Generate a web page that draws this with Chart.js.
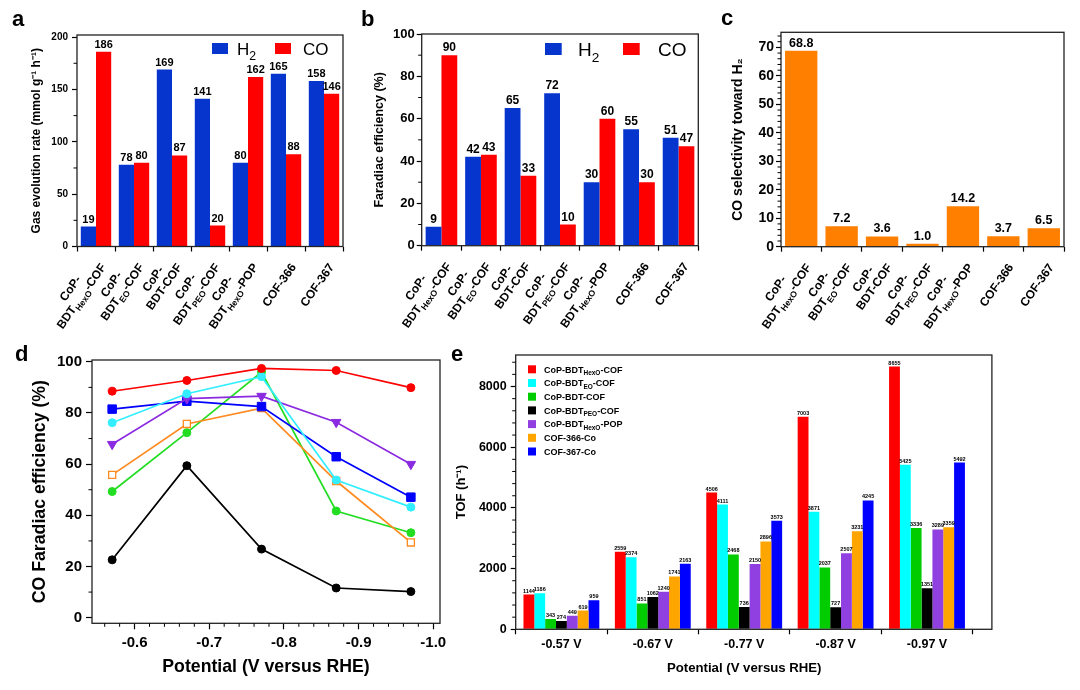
<!DOCTYPE html>
<html>
<head>
<meta charset="utf-8">
<script src="https://cdn.jsdelivr.net/npm/chart.js@4.4.1/dist/chart.umd.min.js"></script>
<style>
  body { margin: 0; background: #fff; width: 1080px; height: 690px; position: relative; overflow: hidden; }
  canvas { position: absolute; }
  .tag { position: absolute; font: bold 22px "Liberation Sans", Arial, sans-serif; line-height: 22px; color: #000; }
</style>
</head>
<body>
<canvas id="ga" width="360" height="345" style="left:0;top:0"></canvas>
<canvas id="gb" width="360" height="345" style="left:355px;top:0"></canvas>
<canvas id="gc" width="365" height="345" style="left:715px;top:0"></canvas>
<canvas id="gd" width="480" height="360" style="left:0;top:330px"></canvas>
<canvas id="ge" width="640" height="360" style="left:440px;top:330px"></canvas>
<div class="tag" style="left:12px;top:8px">a</div>
<div class="tag" style="left:361px;top:8px">b</div>
<div class="tag" style="left:721px;top:7px">c</div>
<div class="tag" style="left:15px;top:343px">d</div>
<div class="tag" style="left:451px;top:343px">e</div>
<script>
// ---- data ----
const catalysts = ['CoP-BDT_{HexO}-COF', 'CoP-BDT_{EO}-COF', 'CoP-BDT-COF', 'CoP-BDT_{PEO}-COF', 'CoP-BDT_{HexO}-POP', 'COF-366', 'COF-367'];
const rateH2 = [19, 78, 169, 141, 80, 165, 158];
const rateCO = [186, 80, 87, 20, 162, 88, 146];
const feH2 = [9, 42, 65, 72, 30, 55, 51];
const feCO = [90, 43, 33, 10, 60, 30, 47];
const selectivity = [68.8, 7.2, 3.6, 1.0, 14.2, 3.7, 6.5];

const potentials = [-0.57, -0.67, -0.77, -0.87, -0.97];
const feHexoCOF = [88.5, 92.7, 97.4, 96.6, 89.9];
const feEOCOF = [76.2, 87.5, 94.2, 53.8, 43.2];
const feBDTCOF = [49.3, 72.3, 96.0, 41.7, 33.2];
const fePEOCOF = [22.6, 59.4, 26.8, 11.6, 10.2];
const feHexoPOP = [67.8, 85.6, 86.6, 76.4, 60.0];
const feCOF366 = [55.8, 75.7, 81.9, 53.4, 29.4];
const feCOF367 = [81.5, 84.6, 82.5, 62.9, 47.1];

const tofLabels = ['-0.57 V', '-0.67 V', '-0.77 V', '-0.87 V', '-0.97 V'];
const tofNames = ['CoP-BDT_{HexO}-COF', 'CoP-BDT_{EO}-COF', 'CoP-BDT-COF', 'CoP-BDT_{PEO}-COF', 'CoP-BDT_{HexO}-POP', 'COF-366-Co', 'COF-367-Co'];
const tofHexoCOF = [1144, 2559, 4506, 7003, 8655];
const tofEOCOF = [1186, 2374, 4111, 3871, 5425];
const tofBDTCOF = [343, 851, 2468, 2037, 3336];
const tofPEOCOF = [274, 1062, 736, 727, 1351];
const tofHexoPOP = [449, 1240, 2150, 2507, 3289];
const tofCOF366 = [619, 1741, 2896, 3231, 3359];
const tofCOF367 = [959, 2163, 3573, 4245, 5492];

const FONT = '"Liberation Sans", Arial, sans-serif';
Chart.defaults.font.family = FONT;
Chart.defaults.color = '#000';

// text with _{...} subscripts, drawn left-aligned on the baseline
function parts(s) {
  const out = [], re = /_\{([^}]*)\}/g;
  let last = 0, m;
  while ((m = re.exec(s))) {
    if (m.index > last) out.push({ t: s.slice(last, m.index), sub: false });
    out.push({ t: m[1], sub: true });
    last = re.lastIndex;
  }
  if (last < s.length) out.push({ t: s.slice(last), sub: false });
  return out;
}
function richWidth(ctx, s, size, weight) {
  let w = 0;
  parts(s).forEach(p => {
    ctx.font = `${weight} ${p.sub ? size * 0.72 : size}px ${FONT}`;
    w += ctx.measureText(p.t).width;
  });
  return w;
}
function drawRich(ctx, s, x, y, size, weight) {
  ctx.textAlign = 'left';
  ctx.textBaseline = 'alphabetic';
  parts(s).forEach(p => {
    ctx.font = `${weight} ${p.sub ? size * 0.72 : size}px ${FONT}`;
    ctx.fillText(p.t, x, p.sub ? y + size * 0.3 : y);
    x += ctx.measureText(p.t).width;
  });
}

const decor = {
  id: 'decor',
  afterDatasetsDraw(chart, args, o) {
    const ctx = chart.ctx, a = chart.chartArea;
    ctx.save();
    // numbers above bars
    if (o.values) {
      ctx.fillStyle = '#000';
      ctx.textAlign = 'center';
      ctx.textBaseline = 'alphabetic';
      ctx.font = `bold ${o.values.size}px ${FONT}`;
      chart.data.datasets.forEach((ds, di) => {
        chart.getDatasetMeta(di).data.forEach((el, i) => {
          ctx.fillText(ds.data[i].toFixed(o.values.digits), el.x, el.y - o.values.gap);
        });
      });
    }
    // box
    const xs = chart.scales.x;
    const ext = o.extendRight ? xs.width / xs.getLabels().length * o.extendRight : 0;
    ctx.strokeStyle = '#222';
    ctx.lineWidth = 1.3;
    ctx.strokeRect(a.left, a.top, a.right - a.left + ext, a.bottom - a.top);
    // minor ticks
    if (o.minor) {
      ctx.lineWidth = 1;
      ctx.strokeStyle = '#000';
      Object.keys(o.minor).forEach(id => {
        const s = chart.scales[id], step = o.minor[id];
        const lo = Math.min(s.min, s.max), hi = Math.max(s.min, s.max);
        for (let k = Math.ceil(lo / step - 1e-6); k * step <= hi + 1e-9; k++) {
          const v = k * step;
          if (s.ticks.some(t => Math.abs(t.value - v) < step * 1e-3)) continue;
          const p = s.getPixelForValue(v);
          ctx.beginPath();
          if (s.isHorizontal()) { ctx.moveTo(p, a.bottom); ctx.lineTo(p, a.bottom + 3.5); }
          else { ctx.moveTo(a.left - 3.5, p); ctx.lineTo(a.left, p); }
          ctx.stroke();
        }
      });
    }
    // rotated category labels
    if (o.catLabels) {
      const L = o.catLabels;
      ctx.fillStyle = '#000';
      L.lines.forEach((lines, i) => {
        ctx.save();
        ctx.translate(xs.getPixelForValue(i) + L.dx, a.bottom + L.dy);
        ctx.rotate(-L.angle * Math.PI / 180);
        const last = lines[lines.length - 1];
        const w = richWidth(ctx, last, L.size, 'bold');
        const base = L.size * 0.36;
        drawRich(ctx, last, -w, base, L.size, 'bold');
        for (let j = lines.length - 2, k = 1; j >= 0; j--, k++) {
          const wj = richWidth(ctx, lines[j], L.size, 'bold');
          drawRich(ctx, lines[j], -w / 2 - wj / 2, base - k * L.lh, L.size, 'bold');
        }
        ctx.restore();
      });
    }
    // legend inside the plot
    if (o.legend) {
      const g = o.legend;
      chart.data.datasets.forEach((ds, i) => {
        const bx = g.rows ? g.x : g.x[i];
        const tx = g.rows ? g.tx : g.tx[i];
        const yy = g.rows ? g.y + i * g.step : g.y;
        ctx.fillStyle = ds.backgroundColor;
        ctx.fillRect(a.left + bx, a.top + yy - g.bh / 2, g.bw, g.bh);
        ctx.fillStyle = '#000';
        drawRich(ctx, ds.label, a.left + tx, a.top + yy + g.size * 0.36, g.size, g.weight);
      });
    }
    ctx.restore();
  }
};

function yAxis(o) {
  return {
    min: o.min, max: o.max,
    afterFit: s => { s.width = o.width; },
    afterBuildTicks: s => {
      const t = [];
      for (let k = Math.ceil(o.min / o.step - 1e-9); k * o.step <= o.max + 1e-9; k++) t.push({ value: k * o.step });
      s.ticks = t;
    },
    border: { display: false },
    grid: { drawOnChartArea: false, tickLength: o.tl, tickColor: '#000', tickWidth: 1.2 },
    ticks: { padding: o.pad, font: { size: o.size, weight: 'bold' }, color: '#000', callback: v => String(v) },
    title: { display: true, text: o.title, font: { size: o.tsize, weight: 'bold' }, padding: { top: o.tpad, bottom: 0 }, color: '#000' }
  };
}
function catAxis(h) {
  return {
    afterFit: s => { s.height = h; },
    border: { display: false },
    grid: { drawOnChartArea: false, offset: true, tickLength: 5, tickColor: '#000', tickWidth: 1.2 },
    ticks: { display: false }
  };
}
const catLines = catalysts.map(s => s.startsWith('CoP-') ? ['CoP-', s.slice(4)] : [s]);
const catLabelOpts = { lines: catLines, size: 12, lh: 13.5, angle: 55, dx: 7, dy: 18 };
const BLUE = '#0535cc', RED = '#ff0000';

// a
new Chart(document.getElementById('ga'), {
  type: 'bar',
  data: {
    labels: catalysts,
    datasets: [
      { label: 'H_{2}', data: rateH2, backgroundColor: BLUE },
      { label: 'CO', data: rateCO, backgroundColor: RED }
    ]
  },
  options: {
    responsive: false, animation: false,
    categoryPercentage: 0.8, barPercentage: 1,
    layout: { padding: { top: 35, right: 17, left: 0, bottom: 0 } },
    plugins: {
      legend: { display: false }, tooltip: { enabled: false },
      decor: {
        values: { size: 11, digits: 0, gap: 4 },
        minor: { y: 25 },
        catLabels: catLabelOpts,
        legend: { x: [135, 198], tx: [160, 226], y: 13.5, bw: 16, bh: 11, size: 17, weight: 'normal' }
      }
    },
    scales: {
      x: catAxis(98.5),
      y: yAxis({ min: 0, max: 202, step: 50, width: 77, tl: 5, pad: 4, size: 10, title: 'Gas evolution rate (mmol g⁻¹ h⁻¹)', tsize: 12, tpad: 29.8 })
    }
  },
  plugins: [decor]
});

// b
new Chart(document.getElementById('gb'), {
  type: 'bar',
  data: {
    labels: catalysts,
    datasets: [
      { label: 'H_{2}', data: feH2, backgroundColor: BLUE },
      { label: 'CO', data: feCO, backgroundColor: RED }
    ]
  },
  options: {
    responsive: false, animation: false,
    categoryPercentage: 0.8, barPercentage: 1,
    layout: { padding: { top: 34, right: 16.7, left: 0, bottom: 0 } },
    plugins: {
      legend: { display: false }, tooltip: { enabled: false },
      decor: {
        values: { size: 12, digits: 0, gap: 4 },
        minor: { y: 10 },
        catLabels: catLabelOpts,
        legend: { x: [123.3, 201.3], tx: [156.3, 236.3], y: 15, bw: 16.7, bh: 12, size: 19, weight: 'normal' }
      }
    },
    scales: {
      x: catAxis(99.3),
      y: yAxis({ min: 0, max: 100, step: 20, width: 66.7, tl: 5, pad: 2, size: 13, title: 'Faradiac efficiency (%)', tsize: 12.5, tpad: 17.5 })
    }
  },
  plugins: [decor]
});

// c
new Chart(document.getElementById('gc'), {
  type: 'bar',
  data: {
    labels: catalysts,
    datasets: [{ label: 'CO/H2', data: selectivity, backgroundColor: '#ff8000' }]
  },
  options: {
    responsive: false, animation: false,
    categoryPercentage: 0.8, barPercentage: 1,
    layout: { padding: { top: 32.3, right: 16, left: 0, bottom: 0 } },
    plugins: {
      legend: { display: false }, tooltip: { enabled: false },
      decor: {
        values: { size: 12.5, digits: 1, gap: 4 },
        minor: { y: 2 },
        catLabels: catLabelOpts
      }
    },
    scales: {
      x: catAxis(98.3),
      y: yAxis({ min: 0, max: 75.3, step: 10, width: 66, tl: 5, pad: 2, size: 14, title: 'CO selectivity toward H₂', tsize: 14, tpad: 14.6 })
    }
  },
  plugins: [decor]
});

// d
const pts = arr => potentials.map((p, i) => ({ x: p, y: arr[i] }));
function series(label, arr, color, extra) {
  return Object.assign({
    label, data: pts(arr), borderColor: color, backgroundColor: color,
    pointBackgroundColor: color, pointBorderColor: color,
    borderWidth: 1.7, pointRadius: 4, pointBorderWidth: 1, pointStyle: 'circle', tension: 0
  }, extra || {});
}
new Chart(document.getElementById('gd'), {
  type: 'line',
  data: {
    datasets: [
      series('CoP-BDT_{HexO}-COF', feHexoCOF, '#ff0000'),
      series('CoP-BDT_{EO}-COF', feEOCOF, '#33eeff'),
      series('CoP-BDT_{HexO}-POP', feHexoPOP, '#8a2be2', { pointStyle: 'triangle', rotation: 180, pointRadius: 5.5 }),
      series('COF-367-Co', feCOF367, '#0000ff', { pointStyle: 'rect', pointRadius: 6 }),
      series('COF-366-Co', feCOF366, '#ff8a1f', { pointStyle: 'rect', pointRadius: 5, pointBackgroundColor: '#fff', pointBorderWidth: 1.3 }),
      series('CoP-BDT-COF', feBDTCOF, '#22dd22'),
      series('CoP-BDT_{PEO}-COF', fePEOCOF, '#000000')
    ]
  },
  options: {
    responsive: false, animation: false,
    layout: { padding: { top: 30, right: 40, left: 0, bottom: 0 } },
    plugins: {
      legend: { display: false }, tooltip: { enabled: false },
      decor: { minor: { x: 0.02, y: 10 } }
    },
    scales: {
      x: {
        type: 'linear', reverse: true, min: -1.009, max: -0.543,
        afterFit: s => { s.height = 66.7; },
        afterBuildTicks: s => { s.ticks = [-0.6, -0.7, -0.8, -0.9, -1.0].map(v => ({ value: v })); },
        border: { display: false },
        grid: { drawOnChartArea: false, tickLength: 6, tickColor: '#000', tickWidth: 1.2 },
        ticks: { padding: 5, font: { size: 15, weight: 'bold' }, color: '#000', callback: v => v.toFixed(1) },
        title: { display: true, text: 'Potential (V versus RHE)', font: { size: 17.7, weight: 'bold' }, padding: { top: 0, bottom: 12.7 }, color: '#000' }
      },
      y: yAxis({ min: -2.2, max: 100.7, step: 20, width: 92, tl: 6, pad: 4, size: 15, title: 'CO Faradiac efficiency (%)', tsize: 17.7, tpad: 29.4 })
    }
  },
  plugins: [decor]
});

// e
const tofColors = ['#ff0000', '#00ffff', '#00cc00', '#000000', '#9040e0', '#ffa500', '#0000ff'];
const tofData = [tofHexoCOF, tofEOCOF, tofBDTCOF, tofPEOCOF, tofHexoPOP, tofCOF366, tofCOF367];
new Chart(document.getElementById('ge'), {
  type: 'bar',
  data: {
    labels: tofLabels,
    datasets: tofData.map((d, i) => ({ label: tofNames[i], data: d, backgroundColor: tofColors[i] }))
  },
  options: {
    responsive: false, animation: false,
    categoryPercentage: 0.83, barPercentage: 1,
    layout: { padding: { top: 25, right: 107.3, left: 0, bottom: 0 } },
    plugins: {
      legend: { display: false }, tooltip: { enabled: false },
      decor: {
        values: { size: 5.5, digits: 0, gap: 2 },
        minor: { y: 400 },
        extendRight: 0.21,
        legend: { rows: true, x: 12.3, tx: 28.3, y: 14.3, step: 13.7, bw: 8, bh: 8, size: 9, weight: 'bold' }
      }
    },
    scales: {
      x: {
        afterFit: s => { s.height = 60.7; },
        border: { display: false },
        grid: { drawOnChartArea: false, offset: true, tickLength: 5, tickColor: '#000', tickWidth: 1.2 },
        ticks: { padding: 3, font: { size: 12.5, weight: 'bold' }, color: '#000' },
        title: { display: true, text: 'Potential (V versus RHE)', font: { size: 13.2, weight: 'bold' }, padding: { top: 0, bottom: 14 }, color: '#000' }
      },
      y: yAxis({ min: 0, max: 9038, step: 2000, width: 75.7, tl: 5, pad: 4, size: 12.5, title: 'TOF (h⁻¹)', tsize: 13, tpad: 13.9 })
    }
  },
  plugins: [decor]
});
</script>
</body>
</html>
